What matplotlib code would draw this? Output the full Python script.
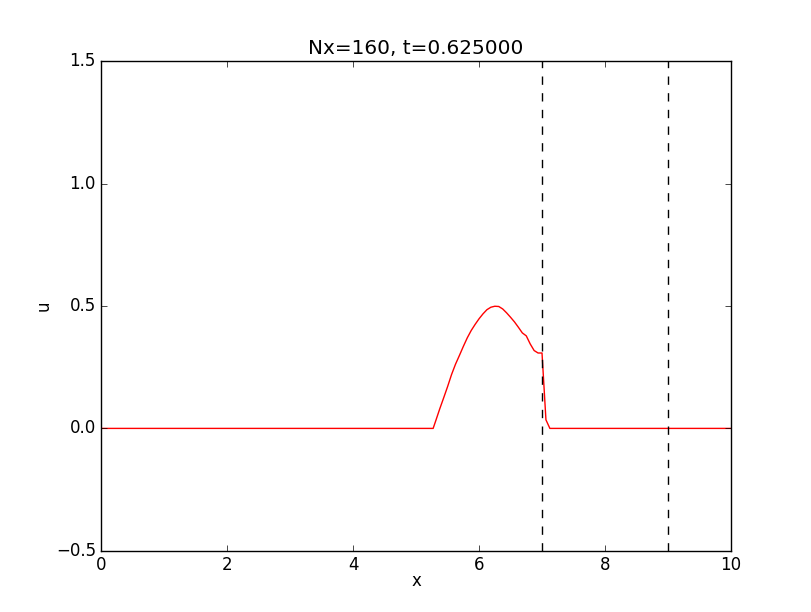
import numpy as np
import matplotlib
matplotlib.use("Agg")
import matplotlib.pyplot as plt

# --- Data (grid spacing dx = 10/160) ---
x_vals = [0.0, 5.27, 5.3125, 5.375, 5.4375, 5.5, 5.5625, 5.625, 5.6875, 5.75,
          5.8125, 5.875, 5.9375, 6.0, 6.0625, 6.125, 6.1875, 6.25, 6.3125,
          6.375, 6.4375, 6.5, 6.5625, 6.625, 6.6875, 6.75, 6.8125, 6.875,
          6.9375, 7.0, 7.0625, 7.125, 10.0]
u_vals = [0.0, 0.0, 0.032, 0.08, 0.125, 0.171, 0.22, 0.262, 0.298, 0.335,
          0.37, 0.40, 0.425, 0.448, 0.468, 0.485, 0.495, 0.499, 0.498,
          0.488, 0.472, 0.454, 0.435, 0.413, 0.39, 0.378, 0.345, 0.318,
          0.308, 0.308, 0.035, 0.0, 0.0]
markers_x = [7.0, 9.0]

plt.style.use("classic")
fig = plt.figure(figsize=(8.12, 6.12), dpi=100, facecolor="white")
ax = fig.add_axes([0.125, 0.1, 0.775, 0.8])

ax.plot(x_vals, u_vals, color="red", linewidth=1)
for xm in markers_x:
    ax.axvline(xm, color="black", linestyle="--", linewidth=1)

ax.set_xlim(0, 10)
ax.set_ylim(-0.5, 1.5)
ax.set_xticks([0, 2, 4, 6, 8, 10])
ax.set_yticks([-0.5, 0.0, 0.5, 1.0, 1.5])
ax.set_xlabel("x", labelpad=-1.5)
ax.set_ylabel("u", labelpad=2)
ax.set_title("Nx=160, t=0.625000")

fig.savefig("out.png", dpi=100, facecolor="white")
